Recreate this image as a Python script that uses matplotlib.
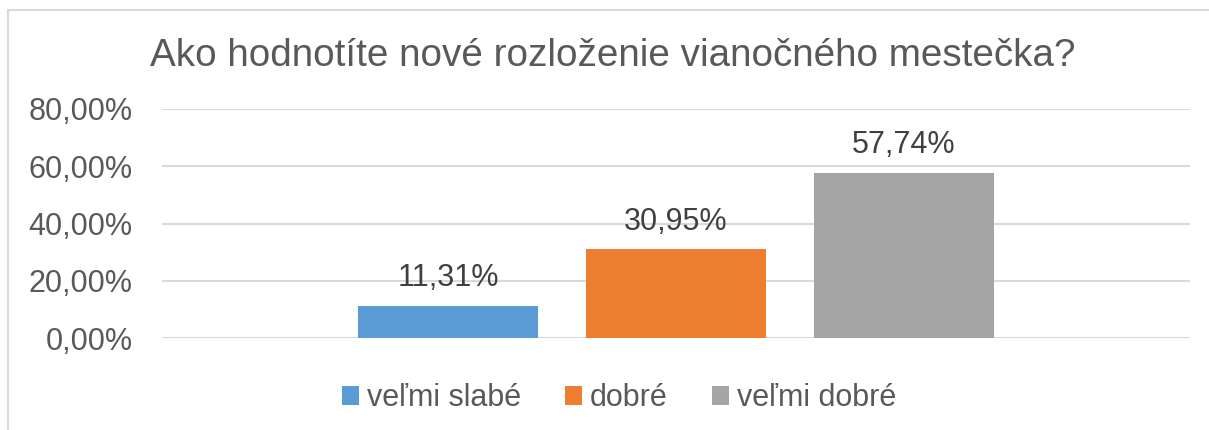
import matplotlib.pyplot as plt
from matplotlib.patches import Rectangle

plt.rcParams["font.family"] = ["Liberation Sans", "DejaVu Sans"]

TEXT = "#595959"
LABEL = "#404040"
GRID = "#D9D9D9"

title = "Ako hodnotíte nové rozloženie vianočného mestečka?"
series = ["veľmi slabé", "dobré", "veľmi dobré"]
values = [11.31, 30.95, 57.74]
labels = ["11,31%", "30,95%", "57,74%"]
colors = ["#5B9BD5", "#ED7D31", "#A5A5A5"]
yticks = [0, 20, 40, 60, 80]
ytick_labels = ["0,00%", "20,00%", "40,00%", "60,00%", "80,00%"]

W, H = 1209, 430
fig = plt.figure(figsize=(W / 100, H / 100), dpi=100)
ax = fig.add_axes([162 / W, 1 - 338 / H, 1028 / W, 229 / H])

# outer chart frame (cropped on the right and bottom)
fig.patches.append(Rectangle((8 / W, -0.2), 1.2, 1.2 - 10 / H,
                             transform=fig.transFigure, fill=False,
                             edgecolor=GRID, linewidth=1.5))

step = 0.2215
width = 0.175
for i, (name, val, lab, col) in enumerate(zip(series, values, labels, colors)):
    x = (i - 1) * step
    ax.bar(x, val, width=width, color=col, label=name, zorder=3)
    ax.annotate(lab, (x, val), xytext=(0, 9), textcoords="offset points",
                ha="center", va="bottom", fontsize=22, color=LABEL)

ax.set_xlim(-0.5, 0.5)
ax.set_ylim(0, 80)
ax.set_yticks(yticks)
ax.set_yticklabels(ytick_labels, fontsize=22, color=TEXT)
ax.set_xticks([])
ax.tick_params(axis="y", length=0, pad=21)
ax.grid(axis="y", color=GRID, linewidth=1.5, zorder=0)
for s in ax.spines.values():
    s.set_visible(False)

fig.text(0.507, 1 - 56 / H, title, ha="center", va="center",
         fontsize=27.8, color=TEXT)

fig.legend(loc="center", bbox_to_anchor=(0.512, 1 - 398 / H), ncol=3,
           frameon=False, fontsize=22, labelcolor=TEXT,
           handlelength=0.56, handleheight=0.6, handletextpad=0.25,
           columnspacing=1.45)

fig.savefig("out.png", dpi=100)
